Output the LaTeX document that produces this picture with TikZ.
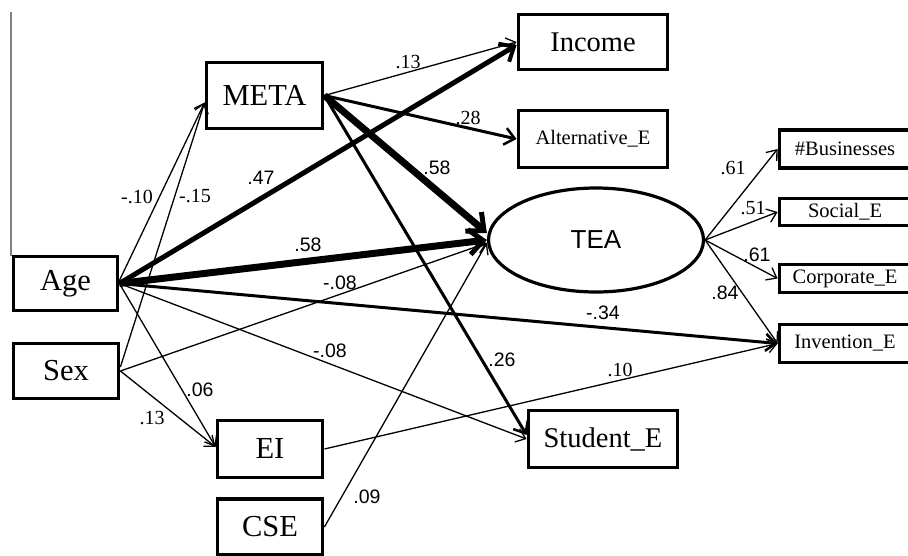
\documentclass[tikz,border=0pt]{standalone}
\usepackage{fontspec}
\setmainfont{Liberation Serif}
\newfontfamily\lsans{Liberation Sans}
\usetikzlibrary{arrows.meta,shapes.geometric}
\begin{document}
\begin{tikzpicture}[x=1pt,y=-1pt,
  box/.style={draw, line width=3.8pt, rectangle, inner sep=0pt},
  fbig/.style={font=\fontsize{30.5}{30.5}\selectfont},
  fmid/.style={font=\fontsize{28.5}{28.5}\selectfont},
  fsml/.style={font=\fontsize{20.5}{20.5}\selectfont},
  thinarr/.style={line width=1.3pt, -{Straight Barb[length=9pt,width=14pt,line width=1.3pt]}},
  medarr/.style={line width=3pt, -{Straight Barb[length=10pt,width=17pt,line width=2.5pt]}},
  thickarr/.style={line width=5pt, -{Straight Barb[length=12pt,width=21pt,line width=4pt]}},
  vthickarr/.style={line width=7pt, -{Straight Barb[length=14pt,width=25pt,line width=5pt]}},
  labsans/.style={font=\lsans\fontsize{19.5}{19.5}\selectfont, inner sep=0pt},
  labserif/.style={font=\fontsize{20}{20}\selectfont, inner sep=0pt}
]
\useasboundingbox (0,0) rectangle (908,555);
\draw[gray, line width=1.5pt] (11,12) -- (11,256);

% nodes
\node[box, fbig, minimum width=116, minimum height=66] (META) at (264.5,95.5) {META};
\node[box, fmid, minimum width=149, minimum height=55] (Income) at (593,42) {Income};
\node[box, fsml, minimum width=149, minimum height=57] (Alt) at (593,139) {Alternative\_E};
\node[box, fsml, minimum width=131, minimum height=38] (Bus) at (845,149) {\#Businesses};
\node[box, fsml, minimum width=131, minimum height=27] (Soc) at (845,212) {Social\_E};
\node[box, fsml, minimum width=131, minimum height=28] (Corp) at (845,278.5) {Corporate\_E};
\node[box, fsml, minimum width=131, minimum height=38] (Inv) at (845,343.5) {Invention\_E};
\node[draw, ellipse, line width=3.2pt, inner sep=0pt, minimum width=215, minimum height=104,
      font=\lsans\fontsize{26}{26}\selectfont] (TEA) at (596,240) {TEA};
\node[box, fmid, minimum width=149, minimum height=57] (Student) at (603,439) {Student\_E};
\node[box, fbig, minimum width=104, minimum height=54] (Age) at (65.5,283.5) {Age};
\node[box, fbig, minimum width=105, minimum height=55] (Sex) at (66,371) {Sex};
\node[box, fbig, minimum width=105, minimum height=57] (EI) at (270,449) {EI};
\node[box, fbig, minimum width=105, minimum height=56] (CSE) at (270,527) {CSE};

% edges
\draw[thinarr] ([yshift=3]Age.east) -- ([yshift=-7]META.west);
\draw[thinarr] ([yshift=4]Sex.east) -- ([yshift=-7]META.west);
\draw[thickarr] (Age.east) -- ([yshift=-3]Income.west);
\draw[thinarr] (META.east) -- (Income.west);
\draw[medarr] (META.east) -- (Alt.west);
\draw[vthickarr] (META.east) -- ([yshift=7]TEA.west);
\draw[vthickarr] (Age.east) -- (TEA.west);
\draw[thinarr] (Sex.east) -- ([yshift=-3]TEA.west);
\draw[thinarr] (CSE.east) -- ([yshift=-3]TEA.west);
\draw[medarr] (META.east) -- ([yshift=4]Student.west);
\draw[thinarr] (Age.east) -- (Student.west);
\draw[medarr] (Age.east) -- (Inv.west);
\draw[thinarr] (EI.east) -- (Inv.west);
\draw[thinarr] (Age.east) -- ([yshift=2]EI.west);
\draw[thinarr] (Sex.east) -- ([yshift=2]EI.west);
\draw[thinarr] (TEA.east) -- (Bus.west);
\draw[thinarr] (TEA.east) -- (Soc.west);
\draw[thinarr] (TEA.east) -- (Corp.west);
\draw[thinarr] (TEA.east) -- (Inv.west);

% labels
\node[labserif] (l1) at (408,62) {.13};
\node[labsans] (l2) at (261,178) {.47};
\node[labserif] (l3) at (137,197) {-.10};
\node[labserif] (l4) at (195,196) {-.15};
\node[labsans] (l5) at (437,168) {.58};
\node[labserif] (l6) at (468,118) {.28};
\node[labsans] (l7) at (308,245) {.58};
\node[labsans] (l8) at (340,283) {-.08};
\node[labsans] (l9) at (330,351) {-.08};
\node[labsans] (l10) at (200,390) {.06};
\node[labserif] (l11) at (152,418) {.13};
\node[labsans] (l12) at (367,497) {.09};
\node[labsans] (l13) at (502,360) {.26};
\node[labserif] (l14) at (620,370) {.10};
\node[labsans] (l15) at (603,313) {-.34};
\node[labsans] (l16) at (725,293) {.84};
\node[labserif] (l17) at (733,168) {.61};
\node[labserif] (l18) at (753,208) {.51};
\node[labsans] (l19) at (757,255) {.61};
\end{tikzpicture}
\end{document}
